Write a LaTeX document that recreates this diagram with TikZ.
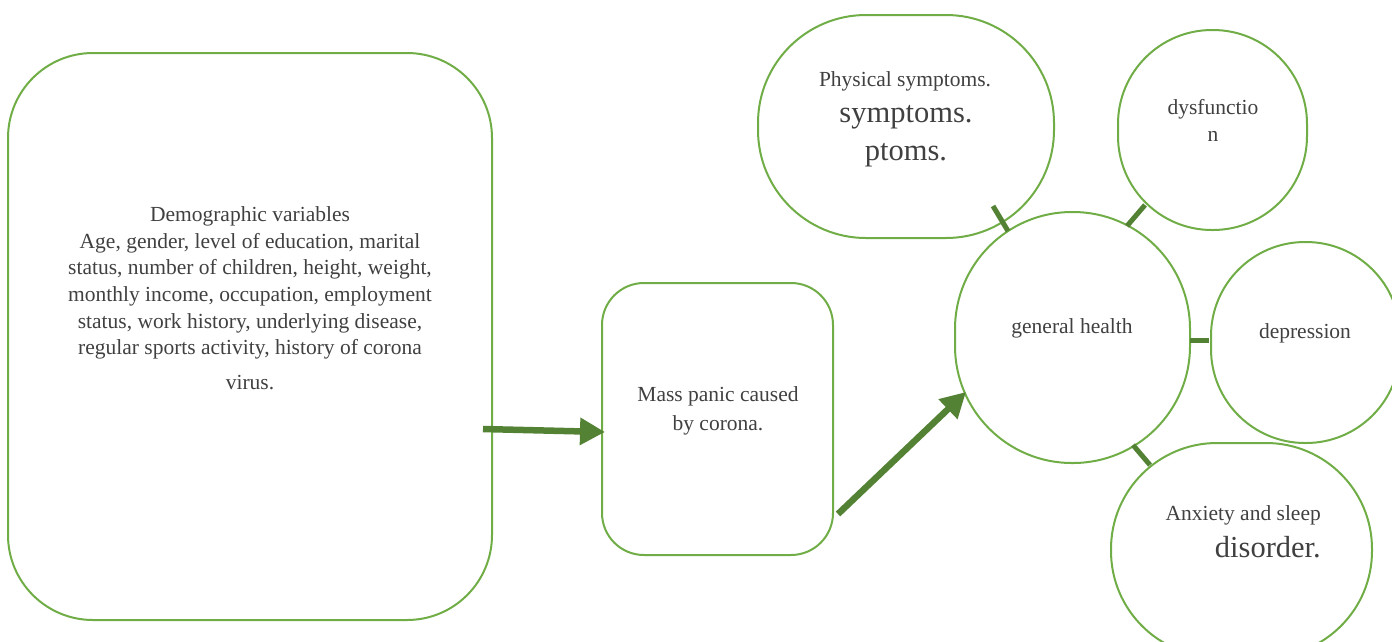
\documentclass[tikz,border=0pt]{standalone}
\usepackage{fontspec}
\setmainfont{Liberation Serif}
\usetikzlibrary{arrows.meta}
\definecolor{shapegreen}{HTML}{70AD47}
\definecolor{darkgreen}{HTML}{548235}
\definecolor{txt}{HTML}{404040}
\tikzset{
  x=1pt, y=-1pt,
  shapebox/.style={draw=shapegreen, line width=2pt, fill=none, inner sep=0pt, rectangle},
  lbl/.style={text=txt, inner sep=0pt, font=\fontsize{21.5}{26.6}\selectfont},
  biglbl/.style={text=txt, inner sep=0pt, font=\fontsize{30.5}{36}\selectfont},
  link/.style={draw=darkgreen, line width=5pt},
  bigarrow/.style={draw=darkgreen, line width=6.5pt, -{Triangle[length=25pt,width=26pt]}}
}
\begin{document}
\begin{tikzpicture}
\useasboundingbox (0,0) rectangle (1392,641);
% shapes
\node[shapebox, minimum width=484pt, minimum height=567pt, rounded corners=85pt] (demo) at (250,336.5) {};
\node[shapebox, minimum width=231pt, minimum height=272pt, rounded corners=42pt] (panic) at (717.5,419) {};
\node[shapebox, minimum width=296pt, minimum height=223pt, rounded corners=108pt] (phys) at (906,126.5) {};
\node[shapebox, minimum width=189pt, minimum height=200pt, rounded corners=94pt] (dys) at (1212.5,130) {};
\node[shapebox, minimum width=235pt, minimum height=251pt, rounded corners=117pt] (gen) at (1072.5,337.5) {};
\node[shapebox, minimum width=189pt, minimum height=201pt, rounded corners=94pt] (dep) at (1305.5,342.5) {};
\node[shapebox, minimum width=261pt, minimum height=214pt, rounded corners=106pt] (anx) at (1241.5,550) {};
% texts
\node[lbl, align=center] (demotxt) at (250,283) {Demographic variables\\Age, gender, level of education, marital\\status, number of children, height, weight,\\monthly income, occupation, employment\\status, work history, underlying disease,\\regular sports activity, history of corona};
\node[lbl] (virus) at (250,383) {virus.};
\node[lbl, align=center, font=\fontsize{21.5}{29}\selectfont] (panictxt) at (718,411) {Mass panic caused\\by\ corona.};
\node[lbl] (phys1) at (905,81) {Physical symptoms.};
\node[biglbl] (phys2) at (906,117) {symptoms.};
\node[biglbl] (phys3) at (906,155) {ptoms.};
\node[lbl, align=center, font=\fontsize{21.5}{27}\selectfont] (dystxt) at (1213,120) {dysfunctio\\n};
\node[lbl] (gentxt) at (1072,328) {general\ health};
\node[lbl] (deptxt) at (1305,333) {depression};
\node[lbl, anchor=east] (anx1) at (1321,515) {Anxiety and sleep};
\node[biglbl, anchor=east] (anx2) at (1321,547) {disorder.};
% connectors
\coordinate (p1) at (993,206); \coordinate (p2) at (1008,231);
\draw[link] (p1) -- (p2);
\coordinate (d1) at (1145,205); \coordinate (d2) at (1127,226);
\draw[link] (d1) -- (d2);
\coordinate (e1) at (1190,340); \coordinate (e2) at (1209,340);
\draw[link] (e1) -- (e2);
\coordinate (a1) at (1133,445); \coordinate (a2) at (1150,465);
\draw[link] (a1) -- (a2);
% arrows
\coordinate (s1) at (483,429); \coordinate (t1) at (605,432);
\draw[bigarrow] (s1) -- (t1);
\coordinate (s2) at (838,514); \coordinate (t2) at (966,392);
\draw[bigarrow] (s2) -- (t2);
\end{tikzpicture}
\end{document}
